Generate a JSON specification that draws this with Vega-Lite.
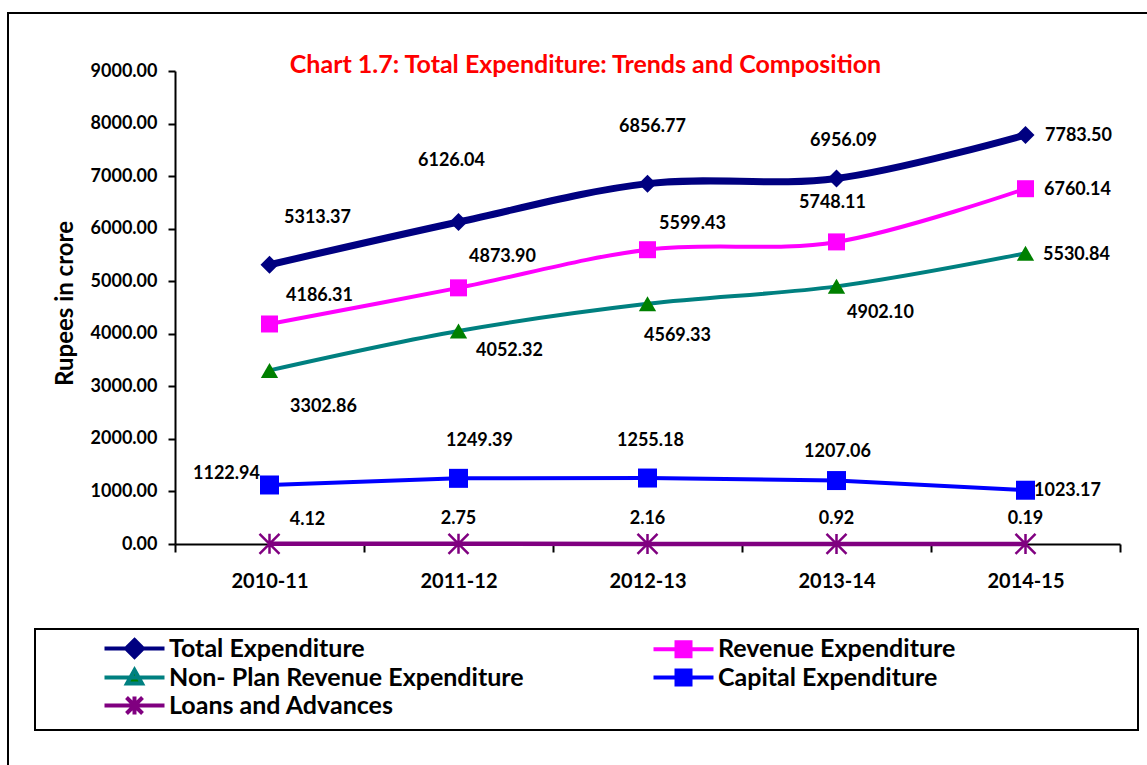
{
  "$schema": "https://vega.github.io/schema/vega-lite/v6.json",
  "width": 1139,
  "height": 752,
  "autosize": {"type": "none"},
  "padding": {"left": 8, "top": 13, "right": 0, "bottom": 0},
  "background": "white",
  "config": {
    "font": "Lato",
    "view": {"stroke": "black", "strokeWidth": 2, "strokeDash": [1139, 1891, 752], "fill": null},
    "text": {"font": "Lato", "fontSize": 18, "fontWeight": "bold", "color": "black", "align": "center", "baseline": "middle"},
    "legend": {
      "orient": "none", "legendX": 27, "legendY": 616, "direction": "horizontal", "columns": 2, "columnPadding": 9, "rowPadding": -7,
      "padding": 7, "strokeColor": "black", "strokeWidth": 2, "symbolSize": 400, "symbolStrokeWidth": 4,
      "symbolOffset": 80, "labelOffset": 22,
      "labelFont": "Lato", "labelFontSize": 25, "labelFontWeight": "bold", "labelColor": "black",
      "labelLimit": 0, "gridAlign": "each", "symbolOpacity": 1
    }
  },
  "title": {
    "text": "Chart 1.7: Total Expenditure: Trends and Composition",
    "color": "#FF0000", "font": "Lato", "fontSize": 25, "fontWeight": "bold",
    "anchor": "middle", "frame": "group", "orient": "top", "offset": -77, "baseline": "middle", "dx": 8
  },
  "data": {"values": [
    {"year": "2010-11", "series": "Total Expenditure", "value": 5313.37},
    {"year": "2011-12", "series": "Total Expenditure", "value": 6126.04},
    {"year": "2012-13", "series": "Total Expenditure", "value": 6856.77},
    {"year": "2013-14", "series": "Total Expenditure", "value": 6956.09},
    {"year": "2014-15", "series": "Total Expenditure", "value": 7783.50},
    {"year": "2010-11", "series": "Revenue Expenditure", "value": 4186.31},
    {"year": "2011-12", "series": "Revenue Expenditure", "value": 4873.90},
    {"year": "2012-13", "series": "Revenue Expenditure", "value": 5599.43},
    {"year": "2013-14", "series": "Revenue Expenditure", "value": 5748.11},
    {"year": "2014-15", "series": "Revenue Expenditure", "value": 6760.14},
    {"year": "2010-11", "series": "Non- Plan Revenue Expenditure", "value": 3302.86},
    {"year": "2011-12", "series": "Non- Plan Revenue Expenditure", "value": 4052.32},
    {"year": "2012-13", "series": "Non- Plan Revenue Expenditure", "value": 4569.33},
    {"year": "2013-14", "series": "Non- Plan Revenue Expenditure", "value": 4902.10},
    {"year": "2014-15", "series": "Non- Plan Revenue Expenditure", "value": 5530.84},
    {"year": "2010-11", "series": "Capital Expenditure", "value": 1122.94},
    {"year": "2011-12", "series": "Capital Expenditure", "value": 1249.39},
    {"year": "2012-13", "series": "Capital Expenditure", "value": 1255.18},
    {"year": "2013-14", "series": "Capital Expenditure", "value": 1207.06},
    {"year": "2014-15", "series": "Capital Expenditure", "value": 1023.17},
    {"year": "2010-11", "series": "Loans and Advances", "value": 4.12},
    {"year": "2011-12", "series": "Loans and Advances", "value": 2.75},
    {"year": "2012-13", "series": "Loans and Advances", "value": 2.16},
    {"year": "2013-14", "series": "Loans and Advances", "value": 0.92},
    {"year": "2014-15", "series": "Loans and Advances", "value": 0.19}
  ]},
  "encoding": {
    "x": {
      "field": "year", "type": "ordinal",
      "scale": {"type": "band", "range": [167, 1112], "paddingInner": 0, "paddingOuter": 0},
      "axis": {
        "title": null, "offset": -221, "tickBand": "extent", "tickSize": 8, "tickWidth": 2, "tickColor": "black",
        "domainColor": "black", "domainWidth": 2, "labelFont": "Lato", "labelFontSize": 20, "labelFontWeight": "bold",
        "labelColor": "black", "labelPadding": 19, "labelAngle": 0, "grid": false
      }
    },
    "y": {
      "field": "value", "type": "quantitative",
      "scale": {"domain": [0, 9000], "range": [531, 58], "nice": false, "zero": false},
      "axis": {
        "title": "Rupees in crore", "offset": -167, "values": [0, 1000, 2000, 3000, 4000, 5000, 6000, 7000, 8000, 9000],
        "format": ".2f", "tickSize": 7, "tickWidth": 2, "tickColor": "black", "domainColor": "black", "domainWidth": 2,
        "labelFont": "Lato", "labelFontSize": 18, "labelFontWeight": "bold", "labelColor": "black", "labelPadding": 11,
        "grid": false, "titleFont": "Lato", "titleFontSize": 24, "titleFontWeight": "bold", "titleColor": "black",
        "titleX": -110, "titleY": 290, "titleAngle": 270, "titleBaseline": "middle", "titleAlign": "center"
      }
    }
  },
  "layer": [
    {"transform": [{"filter": "datum.series == 'Loans and Advances'"}], "mark": {"type": "line", "color": "#800080", "strokeWidth": 4.5, "clip": false}},
    {"transform": [{"filter": "datum.series == 'Capital Expenditure'"}], "mark": {"type": "line", "color": "#0000FF", "strokeWidth": 4}},
    {"transform": [{"filter": "datum.series == 'Non- Plan Revenue Expenditure'"}], "mark": {"type": "line", "color": "#008080", "strokeWidth": 4, "interpolate": "cardinal"}},
    {"transform": [{"filter": "datum.series == 'Revenue Expenditure'"}], "mark": {"type": "line", "color": "#FF00FF", "strokeWidth": 4, "interpolate": "cardinal"}},
    {"transform": [{"filter": "datum.series == 'Total Expenditure'"}], "mark": {"type": "line", "color": "#000080", "strokeWidth": 7, "interpolate": "cardinal"}},
    {"transform": [{"filter": "datum.series == 'Total Expenditure'"}], "mark": {"type": "point", "shape": "diamond", "size": 324, "filled": true, "color": "#000080", "opacity": 1}},
    {"transform": [{"filter": "datum.series == 'Revenue Expenditure'"}], "mark": {"type": "point", "shape": "square", "size": 289, "filled": true, "color": "#FF00FF", "opacity": 1}},
    {"transform": [{"filter": "datum.series == 'Non- Plan Revenue Expenditure'"}], "mark": {"type": "point", "shape": "triangle-up", "size": 300, "filled": true, "color": "#008000", "opacity": 1}},
    {"transform": [{"filter": "datum.series == 'Capital Expenditure'"}], "mark": {"type": "point", "shape": "square", "size": 361, "filled": true, "color": "#0000FF", "opacity": 1}},
    {"transform": [{"filter": "datum.series == 'Loans and Advances'"}], "mark": {"type": "point", "shape": "M -1 -1 L 1 1 M -1 1 L 1 -1 M 0 -1 L 0 1", "size": 400, "filled": false, "strokeWidth": 2.5, "color": "#800080", "opacity": 1, "clip": false}},
    {
      "transform": [{"filter": "false"}],
      "mark": {"type": "point", "filled": true, "opacity": 1},
      "encoding": {
        "shape": {"field": "series", "type": "nominal", "legend": {"title": null},
          "scale": {"domain": ["Total Expenditure", "Revenue Expenditure", "Non- Plan Revenue Expenditure", "Capital Expenditure", "Loans and Advances"],
            "range": [
              "M 43.9 0 M -3 0 L 3 0 M 0 -0.85 L 0.85 0 L 0 0.85 L -0.85 0 Z",
              "M 43.9 0 M -3 0 L 3 0 M -0.7 -0.7 L 0.7 -0.7 L 0.7 0.7 L -0.7 0.7 Z",
              "M 43.9 0 M -3 0 L 3 0 M 0 -0.75 L 0.75 0.6 L -0.75 0.6 Z",
              "M 43.9 0 M -3 0 L 3 0 M -0.7 -0.7 L 0.7 -0.7 L 0.7 0.7 L -0.7 0.7 Z",
              "M 43.9 0 M -3 0 L 3 0 M -0.8 -0.8 L 0.8 0.8 M -0.8 0.8 L 0.8 -0.8 M 0 -0.9 L 0 0.9"
            ]}},
        "fill": {"field": "series", "type": "nominal", "legend": {"title": null},
          "scale": {"domain": ["Total Expenditure", "Revenue Expenditure", "Non- Plan Revenue Expenditure", "Capital Expenditure", "Loans and Advances"],
            "range": ["#000080", "#FF00FF", "#008000", "#0000FF", "#800080"]}},
        "stroke": {"field": "series", "type": "nominal", "legend": {"title": null},
          "scale": {"domain": ["Total Expenditure", "Revenue Expenditure", "Non- Plan Revenue Expenditure", "Capital Expenditure", "Loans and Advances"],
            "range": ["#000080", "#FF00FF", "#008080", "#0000FF", "#800080"]}}
      }
    },
    {"transform": [{"filter": "datum.series == 'Total Expenditure' && datum.year == '2010-11'"}], "mark": {"type": "text", "dx": 48, "dy": -47}, "encoding": {"text": {"field": "value", "type": "quantitative", "format": ".2f"}}},
    {"transform": [{"filter": "datum.series == 'Total Expenditure' && datum.year == '2011-12'"}], "mark": {"type": "text", "dx": -7, "dy": -61}, "encoding": {"text": {"field": "value", "type": "quantitative", "format": ".2f"}}},
    {"transform": [{"filter": "datum.series == 'Total Expenditure' && datum.year == '2012-13'"}], "mark": {"type": "text", "dx": 5, "dy": -57}, "encoding": {"text": {"field": "value", "type": "quantitative", "format": ".2f"}}},
    {"transform": [{"filter": "datum.series == 'Total Expenditure' && datum.year == '2013-14'"}], "mark": {"type": "text", "dx": 7, "dy": -37}, "encoding": {"text": {"field": "value", "type": "quantitative", "format": ".2f"}}},
    {"transform": [{"filter": "datum.series == 'Total Expenditure' && datum.year == '2014-15'"}], "mark": {"type": "text", "dx": 53, "dy": 1}, "encoding": {"text": {"field": "value", "type": "quantitative", "format": ".2f"}}},
    {"transform": [{"filter": "datum.series == 'Revenue Expenditure' && datum.year == '2010-11'"}], "mark": {"type": "text", "dx": 50, "dy": -28}, "encoding": {"text": {"field": "value", "type": "quantitative", "format": ".2f"}}},
    {"transform": [{"filter": "datum.series == 'Revenue Expenditure' && datum.year == '2011-12'"}], "mark": {"type": "text", "dx": 44, "dy": -31}, "encoding": {"text": {"field": "value", "type": "quantitative", "format": ".2f"}}},
    {"transform": [{"filter": "datum.series == 'Revenue Expenditure' && datum.year == '2012-13'"}], "mark": {"type": "text", "dx": 45, "dy": -26}, "encoding": {"text": {"field": "value", "type": "quantitative", "format": ".2f"}}},
    {"transform": [{"filter": "datum.series == 'Revenue Expenditure' && datum.year == '2013-14'"}], "mark": {"type": "text", "dx": -4, "dy": -39}, "encoding": {"text": {"field": "value", "type": "quantitative", "format": ".2f"}}},
    {"transform": [{"filter": "datum.series == 'Revenue Expenditure' && datum.year == '2014-15'"}], "mark": {"type": "text", "dx": 52, "dy": 1}, "encoding": {"text": {"field": "value", "type": "quantitative", "format": ".2f"}}},
    {"transform": [{"filter": "datum.series == 'Non- Plan Revenue Expenditure' && datum.year == '2010-11'"}], "mark": {"type": "text", "dx": 54, "dy": 37}, "encoding": {"text": {"field": "value", "type": "quantitative", "format": ".2f"}}},
    {"transform": [{"filter": "datum.series == 'Non- Plan Revenue Expenditure' && datum.year == '2011-12'"}], "mark": {"type": "text", "dx": 51, "dy": 20}, "encoding": {"text": {"field": "value", "type": "quantitative", "format": ".2f"}}},
    {"transform": [{"filter": "datum.series == 'Non- Plan Revenue Expenditure' && datum.year == '2012-13'"}], "mark": {"type": "text", "dx": 30, "dy": 32}, "encoding": {"text": {"field": "value", "type": "quantitative", "format": ".2f"}}},
    {"transform": [{"filter": "datum.series == 'Non- Plan Revenue Expenditure' && datum.year == '2013-14'"}], "mark": {"type": "text", "dx": 44, "dy": 27}, "encoding": {"text": {"field": "value", "type": "quantitative", "format": ".2f"}}},
    {"transform": [{"filter": "datum.series == 'Non- Plan Revenue Expenditure' && datum.year == '2014-15'"}], "mark": {"type": "text", "dx": 51, "dy": 2}, "encoding": {"text": {"field": "value", "type": "quantitative", "format": ".2f"}}},
    {"transform": [{"filter": "datum.series == 'Capital Expenditure' && datum.year == '2010-11'"}], "mark": {"type": "text", "dx": -43, "dy": -11}, "encoding": {"text": {"field": "value", "type": "quantitative", "format": ".2f"}}},
    {"transform": [{"filter": "datum.series == 'Capital Expenditure' && datum.year == '2011-12'"}], "mark": {"type": "text", "dx": 21, "dy": -37}, "encoding": {"text": {"field": "value", "type": "quantitative", "format": ".2f"}}},
    {"transform": [{"filter": "datum.series == 'Capital Expenditure' && datum.year == '2012-13'"}], "mark": {"type": "text", "dx": 3, "dy": -37}, "encoding": {"text": {"field": "value", "type": "quantitative", "format": ".2f"}}},
    {"transform": [{"filter": "datum.series == 'Capital Expenditure' && datum.year == '2013-14'"}], "mark": {"type": "text", "dx": 1, "dy": -29}, "encoding": {"text": {"field": "value", "type": "quantitative", "format": ".2f"}}},
    {"transform": [{"filter": "datum.series == 'Capital Expenditure' && datum.year == '2014-15'"}], "mark": {"type": "text", "dx": 42, "dy": 1}, "encoding": {"text": {"field": "value", "type": "quantitative", "format": ".2f"}}},
    {"transform": [{"filter": "datum.series == 'Loans and Advances' && datum.year == '2010-11'"}], "mark": {"type": "text", "dx": 38, "dy": -24}, "encoding": {"text": {"field": "value", "type": "quantitative", "format": ".2f"}}},
    {"transform": [{"filter": "datum.series == 'Loans and Advances' && datum.year != '2010-11'"}], "mark": {"type": "text", "dx": 0, "dy": -25}, "encoding": {"text": {"field": "value", "type": "quantitative", "format": ".2f"}}}
  ]
}
